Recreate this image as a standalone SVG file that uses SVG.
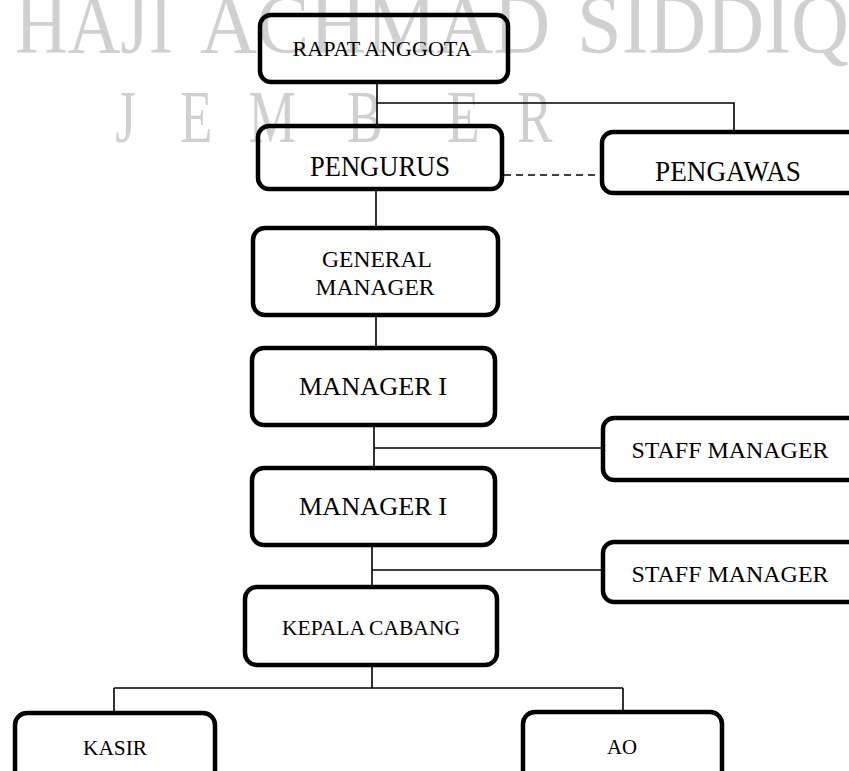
<svg xmlns="http://www.w3.org/2000/svg" width="849" height="771" viewBox="0 0 849 771">
<style>
.wm{font-family:"Liberation Serif","Times New Roman",serif;fill:#d0d0d0}
.box{fill:none;stroke:#000;stroke-width:4.5}
.t{font-family:"Liberation Serif","Times New Roman",serif;fill:#000;text-anchor:middle}
.c{stroke:#000;stroke-width:1.6;fill:none}
</style>
<rect width="849" height="771" fill="#fff"/>
<g id="watermark">
<text class="wm" x="15" y="53" font-size="84" textLength="158" lengthAdjust="spacingAndGlyphs">HAJI</text>
<text class="wm" x="200" y="53" font-size="84" textLength="350" lengthAdjust="spacingAndGlyphs">ACHMAD</text>
<text class="wm" x="577" y="53" font-size="84" textLength="272" lengthAdjust="spacingAndGlyphs">SIDDIQ</text>
<g transform="scale(0.72 1)">
<text class="wm" y="142" font-size="74"><tspan x="160">J</tspan><tspan x="250">E</tspan><tspan x="345">M</tspan><tspan x="482">B</tspan><tspan x="621">E</tspan><tspan x="718">R</tspan></text>
</g>
</g>
<g id="connectors">
<path class="c" d="M377 82V126M377 103H734V132"/>
<path class="c" d="M504 175H601" stroke-dasharray="7,5"/>
<path class="c" d="M376 189V228M376 315V348M374 425V468M374 448H603M372 545V588M372 570H603M372 665V688M114 688H623M114 688V713M623 688V712"/>
</g>
<g id="rapat"><rect class="box" x="260" y="15" width="248" height="67" rx="11"/><text class="t" x="382" y="56" font-size="21" textLength="179" lengthAdjust="spacingAndGlyphs">RAPAT ANGGOTA</text></g>
<g id="pengurus"><rect class="box" x="258" y="126" width="244" height="63" rx="11"/><text class="t" x="380" y="176" font-size="30" textLength="140" lengthAdjust="spacingAndGlyphs">PENGURUS</text></g>
<g id="pengawas"><rect class="box" x="602" y="132" width="262" height="61" rx="11"/><text class="t" x="728" y="181" font-size="30" textLength="146" lengthAdjust="spacingAndGlyphs">PENGAWAS</text></g>
<g id="gm"><rect class="box" x="253" y="228" width="245" height="87" rx="12"/><text class="t" x="377" y="267" font-size="23" textLength="110" lengthAdjust="spacingAndGlyphs">GENERAL</text><text class="t" x="375" y="295" font-size="23" textLength="119" lengthAdjust="spacingAndGlyphs">MANAGER</text></g>
<g id="manager1"><rect class="box" x="252" y="348" width="243" height="77" rx="12"/><text class="t" x="373" y="395" font-size="26" textLength="148" lengthAdjust="spacingAndGlyphs">MANAGER I</text></g>
<g id="staff1"><rect class="box" x="603" y="418" width="262" height="62" rx="11"/><text class="t" x="730" y="458" font-size="24" textLength="197" lengthAdjust="spacingAndGlyphs">STAFF MANAGER</text></g>
<g id="manager2"><rect class="box" x="252" y="468" width="243" height="77" rx="12"/><text class="t" x="373" y="515" font-size="26" textLength="148" lengthAdjust="spacingAndGlyphs">MANAGER I</text></g>
<g id="staff2"><rect class="box" x="603" y="542" width="262" height="60" rx="11"/><text class="t" x="730" y="582" font-size="24" textLength="197" lengthAdjust="spacingAndGlyphs">STAFF MANAGER</text></g>
<g id="kepala"><rect class="box" x="245" y="587" width="252" height="78" rx="12"/><text class="t" x="371" y="635" font-size="21" textLength="178" lengthAdjust="spacingAndGlyphs">KEPALA CABANG</text></g>
<g id="kasir"><rect class="box" x="15" y="713" width="200" height="90" rx="12"/><text class="t" x="115" y="755" font-size="22" textLength="64" lengthAdjust="spacingAndGlyphs">KASIR</text></g>
<g id="ao"><rect class="box" x="523" y="712" width="199" height="90" rx="12"/><text class="t" x="622" y="754" font-size="22" textLength="30" lengthAdjust="spacingAndGlyphs">AO</text></g>
</svg>
